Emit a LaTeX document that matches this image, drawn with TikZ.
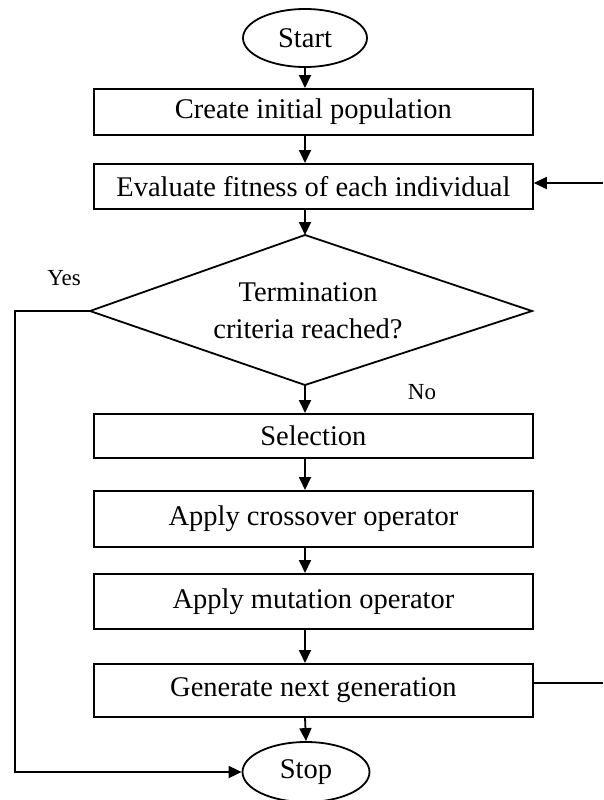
\documentclass[tikz,border=0pt]{standalone}
\usepackage{fontspec}
\setmainfont{Liberation Serif}
\usetikzlibrary{arrows.meta,calc,shapes.geometric}
\begin{document}
\begin{tikzpicture}[x=1pt,y=-1pt,
  line width=1.8pt,
  txt/.style={font=\fontsize{28.5}{37}\selectfont},
  lbl/.style={font=\fontsize{23}{26}\selectfont},
  procbox/.style={draw,txt,minimum width=439pt,inner sep=0pt,anchor=north west},
  term/.style={draw,ellipse,txt,inner sep=0pt},
  arr/.style={-{Triangle[length=13pt,width=12pt]}},
]
\useasboundingbox (0,0) rectangle (603,800);
\fill[white] (0,0) rectangle (603,800);
% terminals
\node[term,minimum width=124pt,minimum height=58pt] (start) at (305,38) {Start};
\node[term,minimum width=127pt,minimum height=60pt] (stop) at (306,772) {Stop};
% process boxes
\node[procbox,minimum height=46pt] (c1) at (93,88) {Create initial population};
\node[procbox,minimum height=45pt] (c2) at (93,163) {Evaluate fitness of each individual};
\node[procbox,minimum height=44pt] (c3) at (93,413) {Selection};
\node[procbox,minimum height=56pt] (c4) at (93,490) {Apply crossover operator};
\node[procbox,minimum height=55pt] (c5) at (93,573) {Apply mutation operator};
\node[procbox,minimum height=53pt] (c6) at (93,663) {Generate next generation};
% decision diamond
\coordinate (dT) at (305,235);
\coordinate (dB) at (305,385);
\coordinate (dL) at (90,311);
\coordinate (dR) at (532,311);
\draw[line join=miter] (dT) -- (dR) -- (dB) -- (dL) -- cycle;
\node[txt,align=center] (dtext) at (308,311) {Termination\\criteria reached?};
% labels
\node[lbl] (yes) at (64,278) {Yes};
\node[lbl] (no) at (422,392) {No};
% axis for vertical arrows
\coordinate (ax) at (305,0);
\draw[arr] (start.south) -- (ax |- c1.north);
\draw[arr] (ax |- c1.south) -- (ax |- c2.north);
\draw[arr] (ax |- c2.south) -- (dT);
\draw[arr] (dB) -- (ax |- c3.north);
\draw[arr] (ax |- c3.south) -- (ax |- c4.north);
\draw[arr] (ax |- c4.south) -- (ax |- c5.north);
\draw[arr] (ax |- c5.south) -- (ax |- c6.north);
\draw[arr] (ax |- c6.south) -- (stop.north);
% loop lines
\coordinate (loopin) at (603,183);
\coordinate (loopout) at (603,683);
\coordinate (yesx) at (15,0);
\draw[arr] (loopin) -- (loopin -| c2.east);
\draw (loopout -| c6.east) -- (loopout);
\draw[arr] (dL) -- (yesx |- dL) -- (yesx |- stop) -- (stop.west);
\end{tikzpicture}
\end{document}
